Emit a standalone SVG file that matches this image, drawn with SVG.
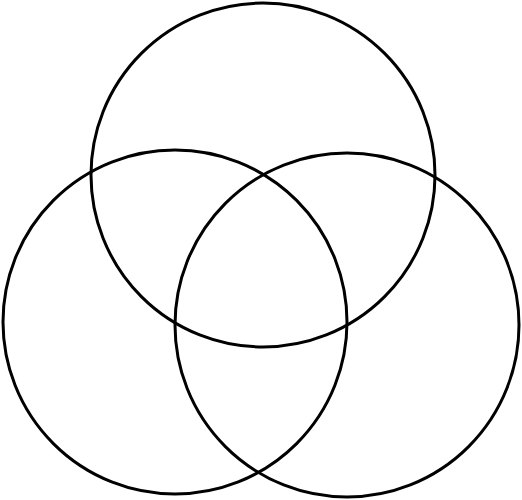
<svg xmlns="http://www.w3.org/2000/svg" width="522" height="500" viewBox="0 0 522 500">
<style>
.c{fill:none;stroke:#000;stroke-width:3}
</style>
<rect width="522" height="500" fill="#fff"/>
<g id="top"><circle class="c" cx="263" cy="175" r="172"/></g>
<g id="left"><circle class="c" cx="175" cy="322" r="172"/></g>
<g id="right"><circle class="c" cx="347" cy="325" r="172"/></g>
</svg>
